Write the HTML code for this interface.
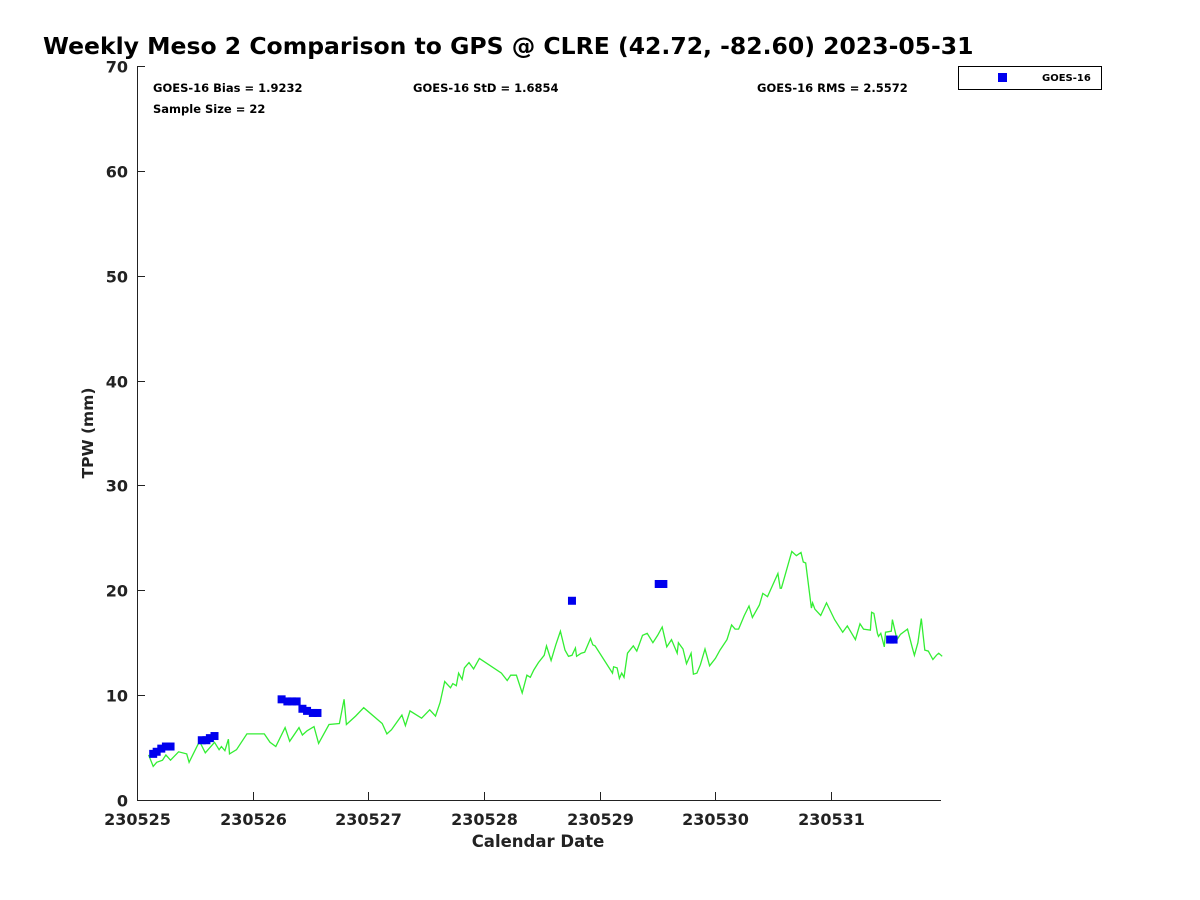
<!DOCTYPE html>
<html><head><meta charset="utf-8"><style>
body{margin:0;background:#fff}
svg{display:block;font-family:"DejaVu Sans","Liberation Sans",sans-serif}
</style></head><body>
<svg id="chart" width="1200" height="900">
<rect width="1200" height="900" fill="#fff"/>
<text x="43" y="54" font-size="23.5" font-weight="bold">Weekly Meso 2 Comparison to GPS @ CLRE (42.72, -82.60) 2023-05-31</text>
<g font-size="11.5" font-weight="bold">
<text x="153" y="92">GOES-16 Bias = 1.9232</text>
<text x="413" y="92">GOES-16 StD = 1.6854</text>
<text x="757" y="92">GOES-16 RMS = 2.5572</text>
<text x="153" y="113">Sample Size = 22</text>
</g>
<g id="axes"></g>
<g id="marks"></g>
<text x="538" y="847" font-size="16.5" font-weight="bold" text-anchor="middle" fill="#222">Calendar Date</text>
<text transform="translate(93,433) rotate(-90)" font-size="15.5" font-weight="bold" text-anchor="middle" fill="#222">TPW (mm)</text>
<g>
<rect x="958.5" y="66.5" width="143" height="23" fill="#fff" stroke="#000"/>
<rect x="998" y="73" width="9" height="9" fill="#0000ee"/>
<text x="1042" y="81" font-size="10" font-weight="bold">GOES-16</text>
</g>
</svg>
<script>
const xTickLabels=["230525","230526","230527","230528","230529","230530","230531"];
const yTickLabels=[0,10,20,30,40,50,60,70];
const gpsDays=[0.10,0.14,0.17,0.22,0.25,0.29,0.36,0.43,0.45,0.54,0.59,0.67,0.71,0.73,0.76,0.79,0.80,0.86,0.95,1.10,1.15,1.20,1.28,1.32,1.40,1.43,1.47,1.53,1.57,1.66,1.75,1.79,1.81,1.89,1.96,2.12,2.16,2.20,2.29,2.32,2.36,2.46,2.53,2.58,2.62,2.66,2.71,2.73,2.76,2.78,2.81,2.83,2.87,2.91,2.96,3.15,3.20,3.23,3.28,3.33,3.37,3.40,3.43,3.47,3.52,3.54,3.58,3.62,3.66,3.70,3.73,3.76,3.79,3.80,3.84,3.87,3.92,3.94,3.96,4.11,4.12,4.15,4.17,4.19,4.21,4.24,4.29,4.32,4.37,4.41,4.46,4.50,4.54,4.58,4.62,4.67,4.68,4.72,4.75,4.79,4.81,4.84,4.87,4.91,4.95,5.00,5.04,5.10,5.14,5.17,5.20,5.25,5.29,5.32,5.38,5.41,5.45,5.54,5.56,5.57,5.66,5.70,5.74,5.76,5.78,5.83,5.84,5.86,5.91,5.96,6.03,6.10,6.14,6.21,6.25,6.28,6.34,6.35,6.37,6.40,6.41,6.43,6.46,6.47,6.52,6.53,6.57,6.60,6.66,6.70,6.72,6.75,6.78,6.81,6.84,6.88,6.91,6.93,6.96];
const gpsValues=[4.3,3.2,3.6,3.8,4.3,3.8,4.6,4.4,3.6,5.6,4.5,5.5,4.8,5.1,4.7,5.8,4.4,4.8,6.3,6.3,5.5,5.1,6.9,5.6,6.9,6.2,6.6,7.0,5.4,7.2,7.3,9.6,7.2,8.0,8.8,7.3,6.3,6.7,8.1,7.1,8.5,7.8,8.6,8.0,9.3,11.3,10.7,11.1,10.9,12.1,11.5,12.6,13.1,12.5,13.5,12.1,11.4,11.9,11.9,10.2,11.9,11.7,12.4,13.1,13.8,14.7,13.3,14.8,16.1,14.3,13.7,13.8,14.5,13.7,14.0,14.1,15.4,14.8,14.7,12.1,12.7,12.6,11.6,12.1,11.7,14.0,14.7,14.2,15.7,15.9,15.0,15.7,16.5,14.6,15.3,14.0,15.0,14.4,13.0,14.0,12.0,12.1,12.9,14.4,12.8,13.5,14.3,15.3,16.7,16.3,16.3,17.6,18.5,17.4,18.6,19.7,19.4,21.6,20.2,20.2,23.7,23.3,23.6,22.7,22.6,18.3,18.8,18.2,17.6,18.8,17.2,16.0,16.6,15.3,16.8,16.3,16.2,17.9,17.8,15.9,15.6,15.9,14.6,16.0,16.1,17.2,15.3,15.8,16.3,14.6,13.8,15.0,17.3,14.3,14.2,13.4,13.8,14.0,13.7];
const goesDays=[0.14,0.17,0.21,0.25,0.29,0.56,0.60,0.63,0.67,1.25,1.30,1.34,1.38,1.43,1.47,1.52,1.56,3.76,4.51,4.55,6.51,6.54];
const goesValues=[4.4,4.6,4.9,5.1,5.1,5.7,5.7,5.9,6.1,9.6,9.4,9.4,9.4,8.7,8.5,8.3,8.3,19.0,20.6,20.6,15.3,15.3];

const X0=137,X1=941,Y0=800,Y1=66,DMAX=6.95,VMAX=70;
const xs=d=>X0+d/DMAX*(X1-X0);
const ys=v=>Y0-v/VMAX*(Y0-Y1);
const NS="http://www.w3.org/2000/svg";
function mk(tag,attrs,parent){const e=document.createElementNS(NS,tag);for(const k in attrs)e.setAttribute(k,attrs[k]);parent.appendChild(e);return e;}
const axes=document.getElementById('axes'),marks=document.getElementById('marks');
const ax=mk('path',{d:`M${X0+0.5},${Y1} V${Y0+0.5} H${X1}`,fill:'none',stroke:'#222','stroke-width':1},axes);


yTickLabels.forEach(v=>{const y=Math.round(ys(v))+0.5;
 const t=mk('line',{x1:X0,x2:X0+8,y1:y,y2:y,stroke:'#222'},axes);
 
 
 const l=mk('text',{x:X0-9,y:y+6,'font-size':16,'font-weight':'bold','text-anchor':'end',fill:'#222'},axes);l.textContent=v;
 
 
});
xTickLabels.forEach((s,i)=>{const x=Math.round(xs(i))+0.5;
 const t=mk('line',{x1:x,x2:x,y1:Y0,y2:Y0-8,stroke:'#222'},axes);
 
 
 const l=mk('text',{x:x,y:Y0+25,'font-size':16,'font-weight':'bold','text-anchor':'middle',fill:'#222'},axes);l.textContent=s;
 
 
});
const pts=gpsDays.map((d,i)=>xs(d).toFixed(1)+','+ys(gpsValues[i]).toFixed(1)).join(' ');
const line=mk('polyline',{points:pts,fill:'none',stroke:'#33ee33','stroke-width':1.3},marks);


goesDays.forEach((d,i)=>{
 const r=mk('rect',{x:xs(d)-4,y:ys(goesValues[i])-4,width:8,height:8,fill:'#0000ee'},marks);
 
 
});
</script>
</body></html>
